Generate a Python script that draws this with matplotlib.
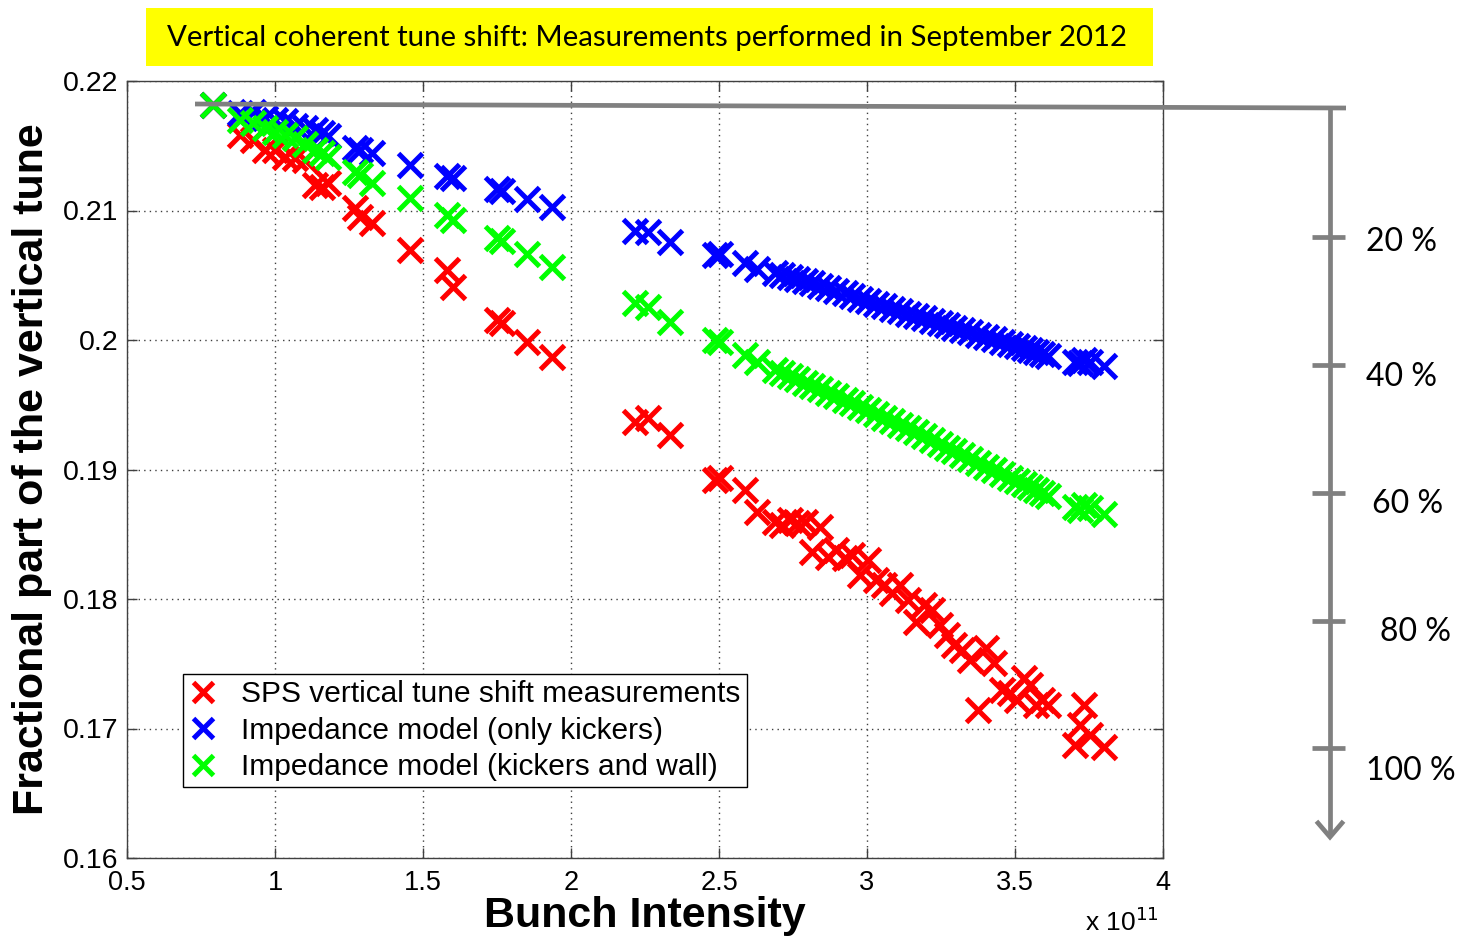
import matplotlib
matplotlib.use("Agg")
import matplotlib.pyplot as plt
from matplotlib.lines import Line2D
from matplotlib.patches import Rectangle

# Bunch intensity (units of 1e11 protons)
intensity = [
    0.791, 0.882, 0.926, 0.966, 1.000, 1.034, 1.068, 1.101, 1.135, 1.159, 1.179,
    1.270, 1.287, 1.328, 1.456, 1.581, 1.601, 1.750, 1.767, 1.851, 1.936,
    2.216, 2.260, 2.334, 2.486, 2.503, 2.588, 2.628, 2.689, 2.713, 2.740, 2.764,
    2.791, 2.814, 2.841, 2.868, 2.895, 2.926, 2.949, 2.976, 3.003, 3.030, 3.057,
    3.084, 3.111, 3.139, 3.166, 3.193, 3.220, 3.247, 3.270, 3.294, 3.321, 3.348,
    3.375, 3.402, 3.429, 3.456, 3.483, 3.507, 3.530, 3.551, 3.571, 3.591, 3.611,
    3.703, 3.720, 3.733, 3.753, 3.801,
]

# Measured vertical tune (SPS)
tune_measured = [
    0.21815, 0.21583, 0.21545, 0.21467, 0.21467, 0.21413, 0.21406, 0.21390, 0.21197, 0.21182, 0.21213,
    0.21020, 0.20950, 0.20904, 0.20695, 0.20541, 0.20410, 0.20155, 0.20132, 0.19985, 0.19869,
    0.19367, 0.19398, 0.19267, 0.18920, 0.18935, 0.18843, 0.18673, 0.18595, 0.18572, 0.18611, 0.18588,
    0.18595, 0.18364, 0.18557, 0.18325, 0.18379, 0.18318, 0.18341, 0.18186, 0.18302, 0.18148, 0.18109,
    0.18047, 0.18109, 0.17993, 0.17823, 0.17955, 0.17916, 0.17800, 0.17723, 0.17646, 0.17607, 0.17530,
    0.17144, 0.17623, 0.17507, 0.17298, 0.17275, 0.17221, 0.17391, 0.17337, 0.17183, 0.17221, 0.17183,
    0.16874, 0.17028, 0.17183, 0.16951, 0.16858,
]

# Impedance model: kickers only
tune_kickers = [
    0.21815, 0.21753, 0.21761, 0.21714, 0.21699, 0.21691, 0.21653, 0.21637, 0.21622, 0.21599, 0.21575,
    0.21483, 0.21467, 0.21444, 0.21352, 0.21267, 0.21251, 0.21166, 0.21151, 0.21089, 0.21027,
    0.20842, 0.20834, 0.20757, 0.20657, 0.20664, 0.20595, 0.20549, 0.20518, 0.20502, 0.20487, 0.20471,
    0.20456, 0.20441, 0.20417, 0.20402, 0.20379, 0.20363, 0.20340, 0.20317, 0.20302, 0.20278, 0.20263,
    0.20240, 0.20224, 0.20201, 0.20186, 0.20170, 0.20147, 0.20132, 0.20116, 0.20093, 0.20078, 0.20062,
    0.20039, 0.20024, 0.20008, 0.19985, 0.19970, 0.19954, 0.19939, 0.19923, 0.19908, 0.19892, 0.19877,
    0.19831, 0.19823, 0.19846, 0.19831, 0.19800,
]

# Impedance model: kickers and wall
tune_kickers_wall = [
    0.21815, 0.21699, 0.21676, 0.21637, 0.21606, 0.21583, 0.21560, 0.21514, 0.21467, 0.21444, 0.21413,
    0.21297, 0.21274, 0.21213, 0.21097, 0.20966, 0.20927, 0.20788, 0.20765, 0.20664, 0.20564,
    0.20286, 0.20255, 0.20139, 0.20001, 0.19985, 0.19885, 0.19831, 0.19769, 0.19746, 0.19723, 0.19700,
    0.19669, 0.19645, 0.19622, 0.19591, 0.19568, 0.19537, 0.19514, 0.19483, 0.19460, 0.19429, 0.19398,
    0.19375, 0.19344, 0.19321, 0.19290, 0.19259, 0.19229, 0.19198, 0.19167, 0.19144, 0.19113, 0.19082,
    0.19051, 0.19020, 0.18997, 0.18966, 0.18935, 0.18912, 0.18889, 0.18866, 0.18843, 0.18819, 0.18796,
    0.18711, 0.18688, 0.18727, 0.18704, 0.18657,
]

series_labels = [
    "SPS vertical tune shift measurements",
    "Impedance model (only kickers)",
    "Impedance model (kickers and wall)",
]
series_colors = ["#ff0000", "#0000ff", "#00ff00"]

x_ticks = [0.5, 1.0, 1.5, 2.0, 2.5, 3.0, 3.5, 4.0]
x_tick_labels = ["0.5", "1", "1.5", "2", "2.5", "3", "3.5", "4"]
y_ticks = [0.16, 0.17, 0.18, 0.19, 0.20, 0.21, 0.22]
y_tick_labels = ["0.16", "0.17", "0.18", "0.19", "0.2", "0.21", "0.22"]

scale_labels = ["20 %", "40 %", "60 %", "80 %", "100 %"]

W, H = 1461, 940
fig = plt.figure(figsize=(W / 100, H / 100), dpi=100)
fig.patch.set_facecolor("white")

ax = fig.add_axes([127 / W, 1 - 858 / H, (1163 - 127) / W, (858 - 81) / H])

for ys, col, lab in zip([tune_measured, tune_kickers, tune_kickers_wall],
                        series_colors, series_labels):
    ax.plot(intensity, ys, linestyle="none", marker="x", color=col,
            markersize=17, markeredgewidth=3.6, label=lab)

ax.set_xlim(0.5, 4.0)
ax.set_ylim(0.16, 0.22)
ax.set_xticks(x_ticks)
ax.set_xticklabels(x_tick_labels)
ax.set_yticks(y_ticks)
ax.set_yticklabels(y_tick_labels)

sans = ["Liberation Sans", "DejaVu Sans"]
for lbl in ax.get_xticklabels():
    lbl.set_fontfamily(sans)
    lbl.set_fontsize(19.5)
for lbl in ax.get_yticklabels():
    lbl.set_fontfamily(sans)
    lbl.set_fontsize(20.5)

ax.tick_params(direction="in", length=7, width=1, color="#404040",
               top=True, right=True)
ax.tick_params(axis="y", pad=6)
ax.tick_params(axis="x", pad=9)
ax.grid(True, linestyle=(0, (1, 3)), color="#404040", linewidth=1.0)
for sp in ax.spines.values():
    sp.set_color("#404040")
    sp.set_linewidth(1.0)

ax.set_ylabel("Fractional part of the vertical tune", fontsize=31,
              fontweight="bold", family=sans, labelpad=8)
ax.set_xlabel("Bunch Intensity", fontsize=31, fontweight="bold",
              family=sans, labelpad=0)

leg = ax.legend(loc="lower left",
                bbox_to_anchor=((183 - 127) / (1163 - 127), (858 - 787) / (858 - 81)),
                frameon=True, fancybox=False, edgecolor="black", framealpha=1,
                prop={"family": sans, "size": 21.5},
                handlelength=0.95, handletextpad=0.8, borderpad=0.2,
                labelspacing=0.28, borderaxespad=0, markerscale=0.85)
leg.get_frame().set_linewidth(1.0)

# Overlay in pixel coordinates for the annotations around the axes
ov = fig.add_axes([0, 0, 1, 1], zorder=10)
ov.set_xlim(0, W)
ov.set_ylim(H, 0)
ov.axis("off")
ov.patch.set_alpha(0)

ov.text(1122, 922, r"x 10$^{11}$", fontsize=19, family=sans,
        ha="center", va="center")

# Title banner
ov.add_patch(Rectangle((146, 8), 1153 - 146, 58, facecolor="#ffff00", edgecolor="none"))
ov.text(647, 38, "Vertical coherent tune shift: Measurements performed in September 2012",
        fontsize=21.2, family=["Lato", "DejaVu Sans"], ha="center", va="center", color="black")

# Relative tune-shift scale
gray = "#808080"
lw = 3.4
ov.add_line(Line2D([195, 1346], [104, 108], color=gray, linewidth=lw, solid_capstyle="butt"))
ov.add_line(Line2D([1330, 1330], [108, 836], color=gray, linewidth=lw, solid_capstyle="butt"))
ov.add_line(Line2D([1318, 1330, 1342], [823, 837, 823], color=gray, linewidth=lw,
                   solid_joinstyle="miter"))
tick_rows = [237, 365, 493, 621, 748]
label_x = [1402, 1402, 1408, 1415, 1411]
label_y = [242, 377, 504, 632, 771]
for ty, lx, ly, txt in zip(tick_rows, label_x, label_y, scale_labels):
    ov.add_line(Line2D([1312, 1345], [ty, ty], color=gray, linewidth=lw, solid_capstyle="butt"))
    ov.text(lx, ly, txt, fontsize=23, family=["Lato", "DejaVu Sans"],
            ha="center", va="center", color="black")

fig.savefig("out.png", dpi=100)
